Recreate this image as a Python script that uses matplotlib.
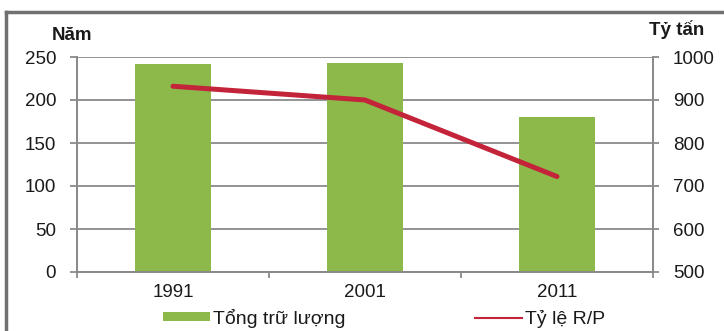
import numpy as np
import matplotlib as mpl
import matplotlib.pyplot as plt
from matplotlib.patches import Patch
from matplotlib.lines import Line2D

# data
years = ['1991', '2001', '2011']
reserves = [984, 985, 861]      # tong tru luong (ty tan), right axis
rp_ratio = [216, 200, 111]      # ty le R/P (nam), left axis

GREEN = '#8DB84A'
RED = '#C3243A'
GRID = '#8A8A8A'

mpl.rcParams.update({'font.family': ['Liberation Sans', 'DejaVu Sans'],
                     'font.size': 13.5,
                     'text.color': '#1a1a1a',
                     'xtick.color': GRID,
                     'ytick.color': GRID,
                     'xtick.labelcolor': '#1a1a1a',
                     'ytick.labelcolor': '#1a1a1a'})

fig = plt.figure(figsize=(7.24, 3.31), dpi=100)
ax = fig.add_axes([77 / 724, 1 - 272 / 331, 576 / 724, 215 / 331])
ax2 = ax.twinx()

x = np.arange(len(years))

# bars on the right-hand scale
ax.bar(x, reserves, width=0.4, color=GREEN, zorder=2)
ax.set_ylim(500, 1000)
ax.set_yticks(np.arange(500, 1001, 100))
ax.yaxis.tick_right()
ax.grid(axis='y', color=GRID, linewidth=1.3, zorder=0)
ax.set_axisbelow(True)

# line on the left-hand scale
ax2.plot(x, rp_ratio, color=RED, linewidth=3.6, solid_capstyle='round')
ax2.set_ylim(0, 250)
ax2.set_yticks(np.arange(0, 251, 50))
ax2.yaxis.tick_left()

ax.set_xlim(-0.5, len(years) - 0.5)
ax.set_xticks(x)
ax.set_xticklabels(years)
ax.set_xticks(np.arange(-0.5, len(years), 1), minor=True)
ax.tick_params(axis='x', which='major', length=0, pad=8.3)
ax.tick_params(axis='x', which='minor', length=4.3, width=1.3)
ax.tick_params(axis='y', length=4.3, width=1.3, pad=10)
ax2.tick_params(axis='y', length=5, width=1.3, pad=10)

for a in (ax, ax2):
    for side in ('left', 'right', 'bottom'):
        a.spines[side].set_color(GRID)
        a.spines[side].set_linewidth(1.3)
    a.spines['top'].set_visible(False)

# unit labels
fig.text(72 / 724, 1 - 35 / 331, 'Năm', ha='center', va='center',
         fontweight='bold', fontsize=13.5)
fig.text(677 / 724, 1 - 30 / 331, 'Tỷ tấn', ha='center', va='center',
         fontweight='bold', fontsize=13.5)

# legend below the plot
handles = [Patch(facecolor=GREEN, edgecolor='none'),
           Line2D([0], [0], color=RED, linewidth=1.5)]
fig.legend(handles, ['Tổng trữ lượng', 'Tỷ lệ R/P'], ncol=2,
           loc='center', bbox_to_anchor=(384 / 724, 1 - 318 / 331),
           frameon=False, fontsize=14, handlelength=2.42,
           handleheight=0.36, handletextpad=0.15, columnspacing=6.7,
           borderpad=0)

# outer frame (top and left edges visible)
fig.add_artist(Line2D([6 / 724, 6 / 724], [0, 1 - 12 / 331],
                      color='#707070', linewidth=2.5))
fig.add_artist(Line2D([6 / 724, 1], [1 - 12 / 331, 1 - 12 / 331],
                      color='#707070', linewidth=2.5))

fig.savefig('out.png', dpi=100, facecolor='white')
